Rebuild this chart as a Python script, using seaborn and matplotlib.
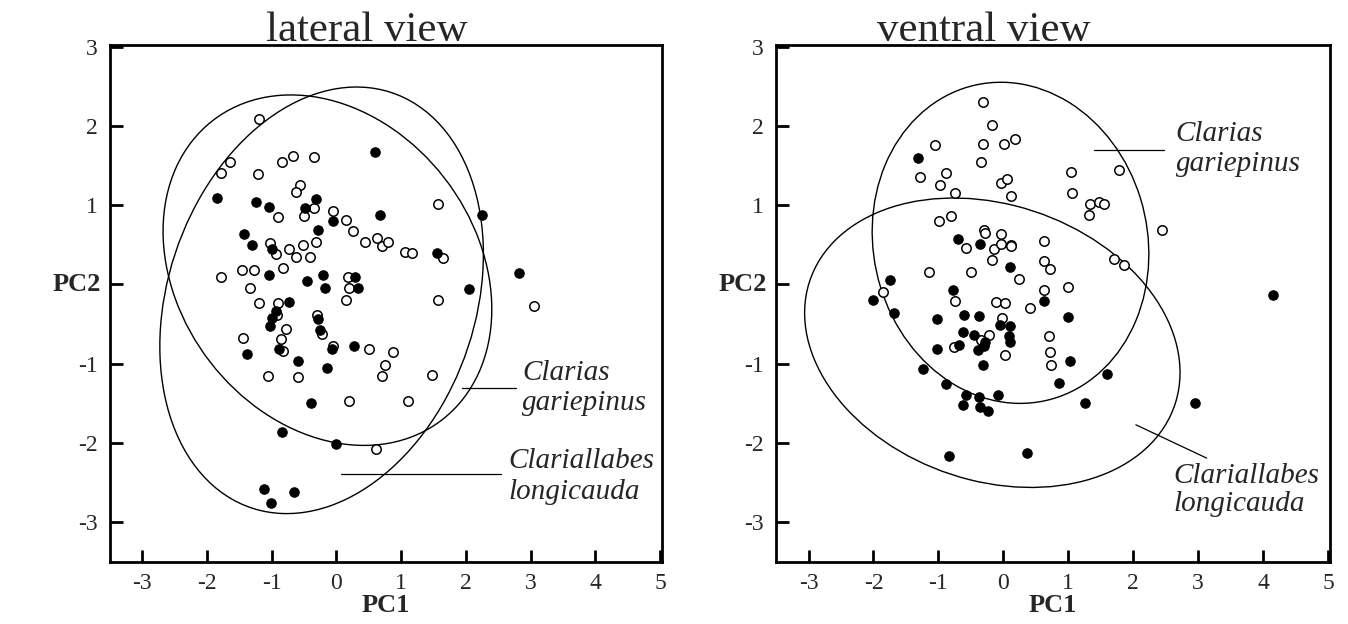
import numpy as np
import pandas as pd
import matplotlib
matplotlib.use("Agg")
import matplotlib.pyplot as plt
from matplotlib.patches import Ellipse
import seaborn as sns

# ---------------- data ----------------
# lateral view
lat_gar_x = [-1.20, -1.65, -1.78, -1.22, -0.84, -0.67, -0.35, -0.57, -0.63, -0.90, -0.50, -0.34, -0.05, 0.14,
             -1.03, -0.93, -0.74, -0.52, -0.31, -0.62, -0.41, -0.82, -1.78, -1.46, -1.27, -1.33, -1.19, -0.91,
             0.18, 0.19, 0.14, 1.57, 0.26, 0.44, 0.63, 0.70, 0.79, 1.06, 1.16, 1.64, 1.57, 3.05, 0.51, 0.88,
             0.75, 0.70, 1.48, 0.20, 1.11, 0.61, -0.92, -0.78, -1.45, -0.86, -0.82, -1.06, -0.59, -0.30, -0.22, -0.06]
lat_gar_y = [2.09, 1.54, 1.41, 1.39, 1.55, 1.62, 1.61, 1.25, 1.17, 0.85, 0.86, 0.97, 0.93, 0.81,
             0.52, 0.38, 0.45, 0.50, 0.54, 0.34, 0.35, 0.21, 0.10, 0.18, 0.18, -0.05, -0.23, -0.23,
             0.10, -0.05, -0.20, 1.02, 0.68, 0.53, 0.58, 0.48, 0.54, 0.41, 0.40, 0.33, -0.20, -0.27, -0.81, -0.85,
             -1.02, -1.15, -1.14, -1.47, -1.47, -2.07, -0.38, -0.56, -0.67, -0.69, -0.84, -1.15, -1.17, -0.38, -0.62, -0.77]
lat_lon_x = [-1.84, -1.25, -1.04, -0.48, -0.31, -0.05, -0.28, -1.43, -1.31, -1.00, -1.05, -0.45, -0.21, -0.18,
             -0.73, 0.60, 0.67, 2.25, 1.56, 2.82, 2.05, 0.29, 0.34, 0.27, -0.94, -1.00, -1.02, -0.89, -1.38,
             -0.60, -0.14, -0.28, -0.26, -0.07, -0.40, -0.84, 0.00, -1.12, -0.66, -1.01]
lat_lon_y = [1.09, 1.04, 0.98, 0.97, 1.08, 0.80, 0.69, 0.64, 0.50, 0.45, 0.12, 0.04, 0.12, -0.04,
             -0.22, 1.67, 0.88, 0.87, 0.40, 0.14, -0.06, 0.09, -0.05, -0.77, -0.34, -0.42, -0.53, -0.82, -0.88,
             -0.96, -1.05, -0.44, -0.58, -0.81, -1.49, -1.86, -2.01, -2.58, -2.62, -2.76]

# ventral view
ven_gar_x = [-0.32, -0.17, -1.05, -0.31, 0.01, 0.18, -0.35, -0.89, -1.28, -0.97, -0.75, -0.03, 0.06, 0.12,
             1.04, 1.78, 1.05, 1.34, 1.47, 1.55, 1.32, 2.45, -0.80, -0.99, -0.30, -0.29, -0.04, -0.58, -0.15,
             -0.04, 0.12, 0.11, 0.63, -0.17, 0.63, 0.72, -1.14, -0.50, 0.24, 1.70, 1.85, 0.63, 1.00, -1.86,
             -0.74, -0.12, 0.02, 0.41, -0.02, -0.22, -0.34, -0.76, 0.02, 0.70, 0.72, 0.73]
ven_gar_y = [2.30, 2.01, 1.76, 1.77, 1.77, 1.83, 1.55, 1.41, 1.36, 1.26, 1.15, 1.28, 1.33, 1.11,
             1.42, 1.44, 1.15, 1.01, 1.04, 1.02, 0.88, 0.69, 0.86, 0.80, 0.69, 0.65, 0.64, 0.46, 0.45,
             0.51, 0.50, 0.48, 0.55, 0.31, 0.29, 0.19, 0.16, 0.16, 0.07, 0.32, 0.25, -0.07, -0.03, -0.10,
             -0.21, -0.22, -0.24, -0.30, -0.42, -0.64, -0.70, -0.79, -0.89, -0.65, -0.85, -1.02]
ven_lon_x = [-1.32, -0.70, -0.36, -1.74, -0.78, 0.10, -2.00, 0.63, -1.69, -1.02, -0.61, -0.38, -0.05, 0.10,
             -0.62, -0.45, 0.08, 0.10, -0.29, -0.30, -0.68, -0.39, -1.02, 0.99, -0.31, -1.23, 1.02, -0.88,
             0.85, -0.58, -0.37, -0.09, -0.62, -0.36, -0.24, 1.60, 1.25, 2.95, 0.37, -0.83, 4.15]
ven_lon_y = [1.60, 0.57, 0.51, 0.06, -0.07, 0.22, -0.19, -0.21, -0.36, -0.43, -0.38, -0.40, -0.51, -0.53,
             -0.60, -0.64, -0.65, -0.72, -0.73, -0.78, -0.76, -0.83, -0.82, -0.41, -1.02, -1.06, -0.97, -1.25,
             -1.24, -1.40, -1.42, -1.40, -1.52, -1.54, -1.60, -1.13, -1.49, -1.49, -2.13, -2.16, -0.13]

# ellipse parameters: centre x, centre y, sd x, sd y, covariance
lat_gar_ell = [-0.14, 0.18, 2.54, 2.21, -1.25]
lat_lon_ell = [-0.23, -0.20, 2.50, 2.69, 1.45]
ven_gar_ell = [0.11, 0.525, 2.13, 2.025, -0.30]
ven_lon_ell = [-0.17, -0.735, 2.89, 1.825, -1.086]

tick_values = [-3, -2, -1, 0, 1, 2, 3, 4, 5]
x_tick_labels = ["-3", "-2", "-1", "0", "1", "2", "3", "4", "5"]
y_tick_values = [-3, -2, -1, 0, 1, 2, 3]
y_tick_labels = ["-3", "-2", "-1", "", "1", "2", "3"]   # the PC2 label sits at 0
titles = ["lateral view", "ventral view"]
axis_names = ["PC1", "PC2"]
species = ["Clarias", "gariepinus", "Clariallabes", "longicauda"]

# ---------------- style ----------------
sns.set_theme(style="white")
plt.rcParams["font.family"] = ["Liberation Serif", "DejaVu Serif"]
plt.rcParams["axes.unicode_minus"] = False

fig = plt.figure(figsize=(13.48, 6.24), dpi=100)
ax_l = fig.add_axes([0.0816, 0.0994, 0.4095, 0.8285])
ax_r = fig.add_axes([0.5757, 0.0994, 0.4110, 0.8285])


def draw_ellipse(ax, p):
    cx, cy, sx, sy, cxy = p
    S = np.array([[sx ** 2, cxy], [cxy, sy ** 2]])
    vals, vecs = np.linalg.eigh(S)
    ang = np.degrees(np.arctan2(vecs[1, 1], vecs[0, 1]))
    e = Ellipse((cx, cy), 2 * np.sqrt(vals[1]), 2 * np.sqrt(vals[0]), angle=ang,
                facecolor="none", edgecolor="black", lw=1.0, zorder=2)
    ax.add_patch(e)


def panel(ax, gx, gy, lx, ly, eg, el, title, title_x):
    dg = pd.DataFrame({"PC1": gx, "PC2": gy})
    dl = pd.DataFrame({"PC1": lx, "PC2": ly})
    sns.scatterplot(data=dg, x="PC1", y="PC2", ax=ax, marker="o", s=46, color="white",
                    edgecolor="black", linewidth=1.1, zorder=3)
    sns.scatterplot(data=dl, x="PC1", y="PC2", ax=ax, marker="o", s=46, color="black",
                    edgecolor="black", linewidth=0.8, zorder=4)
    draw_ellipse(ax, eg)
    draw_ellipse(ax, el)
    ax.set_xlim(-3.5, 5.03)
    ax.set_ylim(-3.5, 3.02)
    ax.set_xticks(tick_values)
    ax.set_xticklabels(x_tick_labels)
    ax.set_yticks(y_tick_values)
    ax.set_yticklabels(y_tick_labels)
    ax.tick_params(axis="both", direction="in", length=9, width=2.0, labelsize=17,
                   bottom=True, left=True, top=False, right=False, color="black")
    ax.tick_params(axis="x", pad=8)
    ax.tick_params(axis="y", pad=9)
    for sp in ax.spines.values():
        sp.set_visible(True)
        sp.set_color("black")
        sp.set_linewidth(2.0)
    ax.set_xlabel(axis_names[0], fontsize=19, fontweight="bold", labelpad=0)
    ax.set_ylabel("")
    ax.text(-0.016, 0.0, axis_names[1], transform=ax.get_yaxis_transform(), fontsize=19,
            fontweight="bold", ha="right", va="center")
    ax.set_title(title, fontsize=31, pad=3, x=title_x)
    ax.grid(False)
    ax.set_facecolor("white")


panel(ax_l, lat_gar_x, lat_gar_y, lat_lon_x, lat_lon_y, lat_gar_ell, lat_lon_ell, titles[0], 0.465)
panel(ax_r, ven_gar_x, ven_gar_y, ven_lon_x, ven_lon_y, ven_gar_ell, ven_lon_ell, titles[1], 0.375)

lab_kw = dict(fontsize=21, style="italic", ha="left", va="baseline")
# lateral annotations
ax_l.plot([1.94, 2.77], [-1.31, -1.31], color="black", lw=0.9)
ax_l.plot([0.07, 2.54], [-2.39, -2.39], color="black", lw=0.9)
ax_l.text(2.87, -1.20, species[0], **lab_kw)
ax_l.text(2.87, -1.58, species[1], **lab_kw)
ax_l.text(2.65, -2.31, species[2], **lab_kw)
ax_l.text(2.65, -2.71, species[3], **lab_kw)
# ventral annotations
ax_r.plot([1.40, 2.47], [1.69, 1.69], color="black", lw=0.9)
ax_r.plot([2.04, 3.13], [-1.77, -2.19], color="black", lw=0.9)
ax_r.text(2.65, 1.81, species[0], **lab_kw)
ax_r.text(2.65, 1.43, species[1], **lab_kw)
ax_r.text(2.62, -2.50, species[2], **lab_kw)
ax_r.text(2.62, -2.86, species[3], **lab_kw)

fig.savefig("out.png", dpi=100, facecolor="white")
